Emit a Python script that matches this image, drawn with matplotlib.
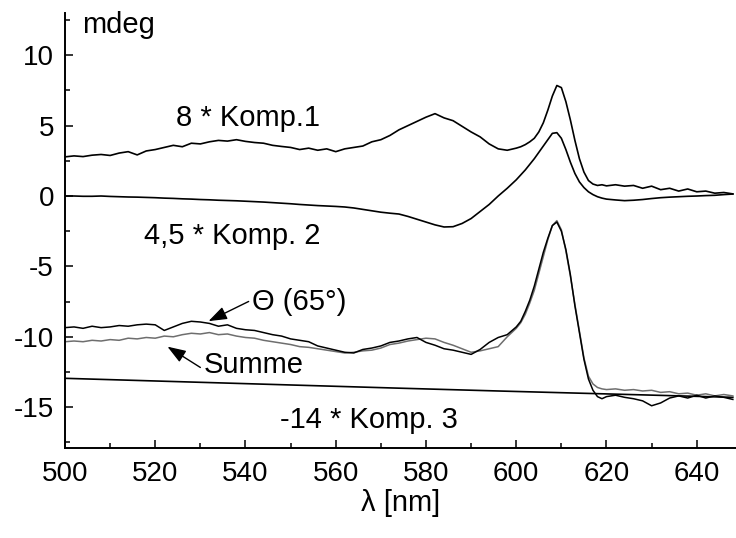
import matplotlib
matplotlib.use("Agg")
import matplotlib.pyplot as plt
from matplotlib.ticker import MultipleLocator

plt.rcParams['font.family'] = ['Liberation Sans', 'DejaVu Sans']
plt.rcParams['axes.unicode_minus'] = False

# wavelength grid (nm): 2 nm steps, 1 nm steps around the band at 609 nm
wavelength = [500, 502, 504, 506, 508, 510, 512, 514, 516, 518, 520, 522, 524, 526, 528,
              530, 532, 534, 536, 538, 540, 542, 544, 546, 548, 550, 552, 554, 556, 558,
              560, 562, 564, 566, 568, 570, 572, 574, 576, 578, 580, 582, 584, 586, 588,
              590, 592, 594, 596, 598, 600,
              601, 602, 603, 604, 605, 606, 607, 608, 609, 610, 611, 612, 613, 614, 615,
              616, 617, 618, 619, 620,
              622, 624, 626, 628, 630, 632, 634, 636, 638, 640, 642, 644, 646, 648]

# 8 * component 1 (mdeg)
komp1 = [2.78, 2.85, 2.80, 2.90, 2.95, 2.88, 3.05, 3.15, 2.92, 3.20, 3.30, 3.45, 3.60, 3.50, 3.75,
         3.70, 3.85, 3.95, 3.90, 4.00, 3.88, 3.80, 3.75, 3.60, 3.52, 3.45, 3.30, 3.40, 3.25, 3.35,
         3.15, 3.35, 3.45, 3.55, 3.85, 4.00, 4.30, 4.70, 5.00, 5.30, 5.60, 5.85, 5.55, 5.35, 4.95,
         4.55, 4.20, 3.70, 3.35, 3.25, 3.40,
         3.50, 3.65, 3.85, 4.10, 4.55, 5.20, 6.10, 7.10, 7.85, 7.70, 6.70, 5.40, 3.95, 2.65, 1.70,
         1.10, 0.85, 0.75, 0.80, 0.72,
         0.80, 0.70, 0.75, 0.55, 0.70, 0.45, 0.55, 0.35, 0.50, 0.30, 0.35, 0.20, 0.25, 0.15]

# 4.5 * component 2 (mdeg)
komp2 = [0.00, 0.00, -0.02, -0.02, 0.00, -0.03, -0.05, -0.07, -0.08, -0.10, -0.12, -0.15, -0.17, -0.20, -0.22,
         -0.25, -0.27, -0.30, -0.32, -0.34, -0.37, -0.40, -0.43, -0.47, -0.51, -0.55, -0.60, -0.64, -0.68, -0.71,
         -0.74, -0.78, -0.85, -0.95, -1.05, -1.15, -1.22, -1.28, -1.45, -1.65, -1.85, -2.05, -2.20, -2.18, -1.95,
         -1.60, -1.10, -0.60, 0.00, 0.55, 1.15,
         1.50, 1.85, 2.25, 2.65, 3.10, 3.55, 4.00, 4.45, 4.50, 4.10, 3.30, 2.40, 1.60, 1.00, 0.60,
         0.30, 0.10, -0.05, -0.15, -0.22,
         -0.28, -0.33, -0.30, -0.25, -0.18, -0.12, -0.08, -0.05, -0.02, 0.00, 0.03, 0.05, 0.10, 0.14]

# measured spectrum Theta(65 deg) (mdeg)
theta65 = [-9.35, -9.30, -9.40, -9.25, -9.35, -9.30, -9.20, -9.25, -9.15, -9.10, -9.15, -9.55, -9.30, -9.05, -8.90,
           -8.95, -9.05, -9.25, -9.15, -9.40, -9.50, -9.55, -9.70, -9.85, -9.95, -10.15, -10.25, -10.35, -10.65, -10.80,
           -10.95, -11.10, -11.15, -10.90, -10.80, -10.65, -10.40, -10.30, -10.15, -10.05, -10.40, -10.60, -10.85, -10.95, -11.10,
           -11.25, -10.90, -10.40, -10.05, -9.85, -9.30,
           -8.90, -8.20, -7.40, -6.40, -5.20, -4.00, -3.00, -2.10, -1.85, -2.50, -3.80, -5.60, -7.80, -9.70, -11.60,
           -13.00, -13.80, -14.25, -14.40, -14.25,
           -14.15, -14.30, -14.40, -14.55, -14.90, -14.70, -14.35, -14.20, -14.35, -14.15, -14.35, -14.20, -14.30, -14.45]

# sum of the components (mdeg)
summe = [-10.35, -10.30, -10.35, -10.25, -10.30, -10.20, -10.25, -10.10, -10.15, -10.05, -10.10, -9.95, -10.00, -9.85, -9.75,
         -9.80, -9.70, -9.85, -9.80, -9.95, -10.05, -10.10, -10.25, -10.35, -10.45, -10.55, -10.70, -10.75, -10.85, -10.95,
         -11.05, -11.15, -11.10, -11.00, -10.95, -10.80, -10.55, -10.45, -10.30, -10.20, -10.10, -10.15, -10.40, -10.60, -10.85,
         -11.10, -11.00, -10.85, -10.70, -10.00, -9.40,
         -9.00, -8.40, -7.60, -6.70, -5.50, -4.30, -3.10, -2.10, -1.75, -2.40, -3.90, -5.70, -7.70, -9.60, -11.50,
         -12.80, -13.35, -13.60, -13.70, -13.75,
         -13.70, -13.80, -13.75, -13.85, -13.80, -13.95, -13.90, -14.05, -14.00, -14.15, -14.05, -14.20, -14.10, -14.20]

# -14 * component 3 (mdeg), nearly linear
komp3_wl = [500, 574, 596, 648]
komp3 = [-12.95, -13.65, -13.85, -14.30]

x_ticks = [500, 520, 540, 560, 580, 600, 620, 640]
y_ticks = [-15, -10, -5, 0, 5, 10]

fig = plt.figure(figsize=(7.36, 5.38), dpi=100)
ax = fig.add_axes([65 / 736, 1 - 448 / 538, 1 - 65 / 736, (448 - 13) / 538])

ax.plot(wavelength, komp1, color='black', lw=1.2)
ax.plot(wavelength, komp2, color='black', lw=1.2)
ax.plot(komp3_wl, komp3, color='black', lw=1.2)
ax.plot(wavelength, summe, color='#6e6e6e', lw=1.1)
ax.plot(wavelength, theta65, color='black', lw=1.1)

ax.set_xlim(500, 648.7)
ax.set_ylim(-17.9, 13)
ax.set_xticks(x_ticks)
ax.set_yticks(y_ticks)
ax.xaxis.set_minor_locator(MultipleLocator(10))
ax.yaxis.set_minor_locator(MultipleLocator(2.5))

for side in ('top', 'right'):
    ax.spines[side].set_visible(False)
for side in ('left', 'bottom'):
    ax.spines[side].set_linewidth(1.4)

ax.tick_params(which='both', direction='in', width=1.1, labelsize=20, colors='black')
ax.tick_params(which='major', length=6)
ax.tick_params(which='minor', length=3.8)
ax.tick_params(axis='x', pad=9.5)
ax.tick_params(axis='y', pad=8)

ax.set_xlabel('λ [nm]', fontsize=21, labelpad=1)
ax.text(503.8, 11.6, 'mdeg', fontsize=21, ha='left', va='baseline')

ax.text(524.7, 5.0, '8 * Komp.1', fontsize=21, ha='left', va='baseline')
ax.text(517.4, -3.38, '4,5 * Komp. 2', fontsize=21, ha='left', va='baseline')
ax.text(547.7, -16.5, '-14 * Komp. 3', fontsize=21, ha='left', va='baseline')
ax.text(541.4, -8.1, 'Θ (65°)', fontsize=21, ha='left', va='baseline')
ax.text(530.7, -12.6, 'Summe', fontsize=21, ha='left', va='baseline')

arrow = dict(arrowstyle='-|>,head_length=0.7,head_width=0.25', color='black', lw=1.0,
             mutation_scale=16, shrinkA=0, shrinkB=0)
ax.annotate('', xy=(531.8, -8.89), xytext=(540.7, -7.49), arrowprops=arrow)
ax.annotate('', xy=(522.7, -10.7), xytext=(530.0, -12.18), arrowprops=arrow)

fig.savefig('out.png', dpi=100)
